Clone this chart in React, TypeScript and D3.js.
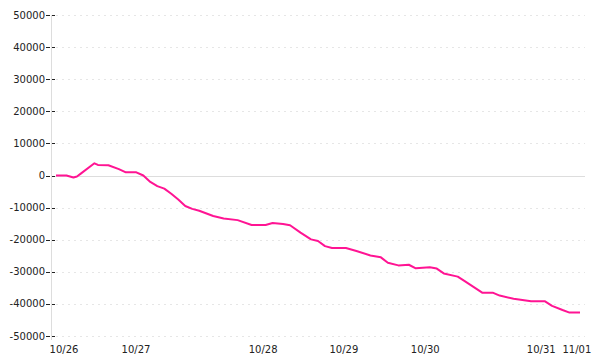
import React from "react";
import * as d3 from "d3";

// time index (sample number) and cumulative value
const sampleIndex = [0, 3, 5, 6, 7, 11, 12, 15, 18, 20, 23, 25, 27, 29, 31, 33, 35, 37, 39, 41, 45, 48, 52, 56, 60, 62, 65, 67, 70, 73, 75, 77, 79, 83, 86, 90, 93, 95, 98, 101, 103, 107, 109, 111, 115, 117, 122, 125, 127, 131, 136, 140, 142, 145, 147, 150];
const values = [0, 0, -600, -300, 500, 3800, 3300, 3200, 2000, 1000, 1000, 0, -2000, -3300, -4100, -5700, -7500, -9500, -10400, -11000, -12600, -13400, -13900, -15400, -15400, -14800, -15100, -15500, -17800, -19900, -20400, -22000, -22600, -22600, -23500, -24900, -25500, -27200, -28000, -27800, -28900, -28600, -29000, -30500, -31500, -32900, -36500, -36500, -37400, -38400, -39200, -39200, -40600, -41900, -42700, -42700];
const dayLabels = ["10/26", "10/27", "10/28", "10/29", "10/30", "10/31", "11/01"];
const dayIndex = [2.3, 22.9, 59.3, 82.4, 105.7, 138.9, 149.1];
const yTicks = [50000, 40000, 30000, 20000, 10000, 0, -10000, -20000, -30000, -40000, -50000];

export default function App() {
  const W = 600, H = 360;
  const x = d3.scaleLinear().domain([0, 150]).range([56, 580]);
  const y = d3.scaleLinear().domain([-50000, 50000]).range([336, 15]);
  const pts = sampleIndex.map((t, i) => [t, values[i]] as [number, number]);
  const line = d3.line<[number, number]>().x(d => x(d[0])).y(d => y(d[1]));
  const font = "'DejaVu Sans', Verdana, sans-serif";
  return (
    <svg width={W} height={H} style={{ position: "absolute", left: 0, top: 0 }}>
      <rect width={W} height={H} fill="#fff" />
      {yTicks.map(v => (
        <g key={v}>
          {v === 0 ? (
            <line x1={52} x2={585} y1={Math.round(y(v)) + 0.5} y2={Math.round(y(v)) + 0.5} stroke="#dddddd" strokeWidth={1} />
          ) : (
            <line x1={56} x2={585} y1={Math.round(y(v)) + 0.5} y2={Math.round(y(v)) + 0.5} stroke="#e6e6e6" strokeWidth={1} strokeDasharray="2,4" />
          )}
          <line x1={46} x2={55} y1={Math.round(y(v)) + 0.5} y2={Math.round(y(v)) + 0.5} stroke="#222" strokeWidth={1} strokeDasharray="4,1" />
          <text x={45} y={y(v)} dy="0.35em" textAnchor="end" fontFamily={font} fontSize={10} fill="#222">{v}</text>
        </g>
      ))}
      <line x1={51.5} x2={51.5} y1={15} y2={340} stroke="#dddddd" strokeWidth={1} />
      {dayLabels.map((d, i) => (
        <text key={d} x={x(dayIndex[i])} y={353} textAnchor="middle" fontFamily={font} fontSize={10} fill="#222">{d}</text>
      ))}
      <path d={line(pts) || ""} fill="none" stroke="#ff1493" strokeWidth={2} strokeLinejoin="round" />
    </svg>
  );
}
